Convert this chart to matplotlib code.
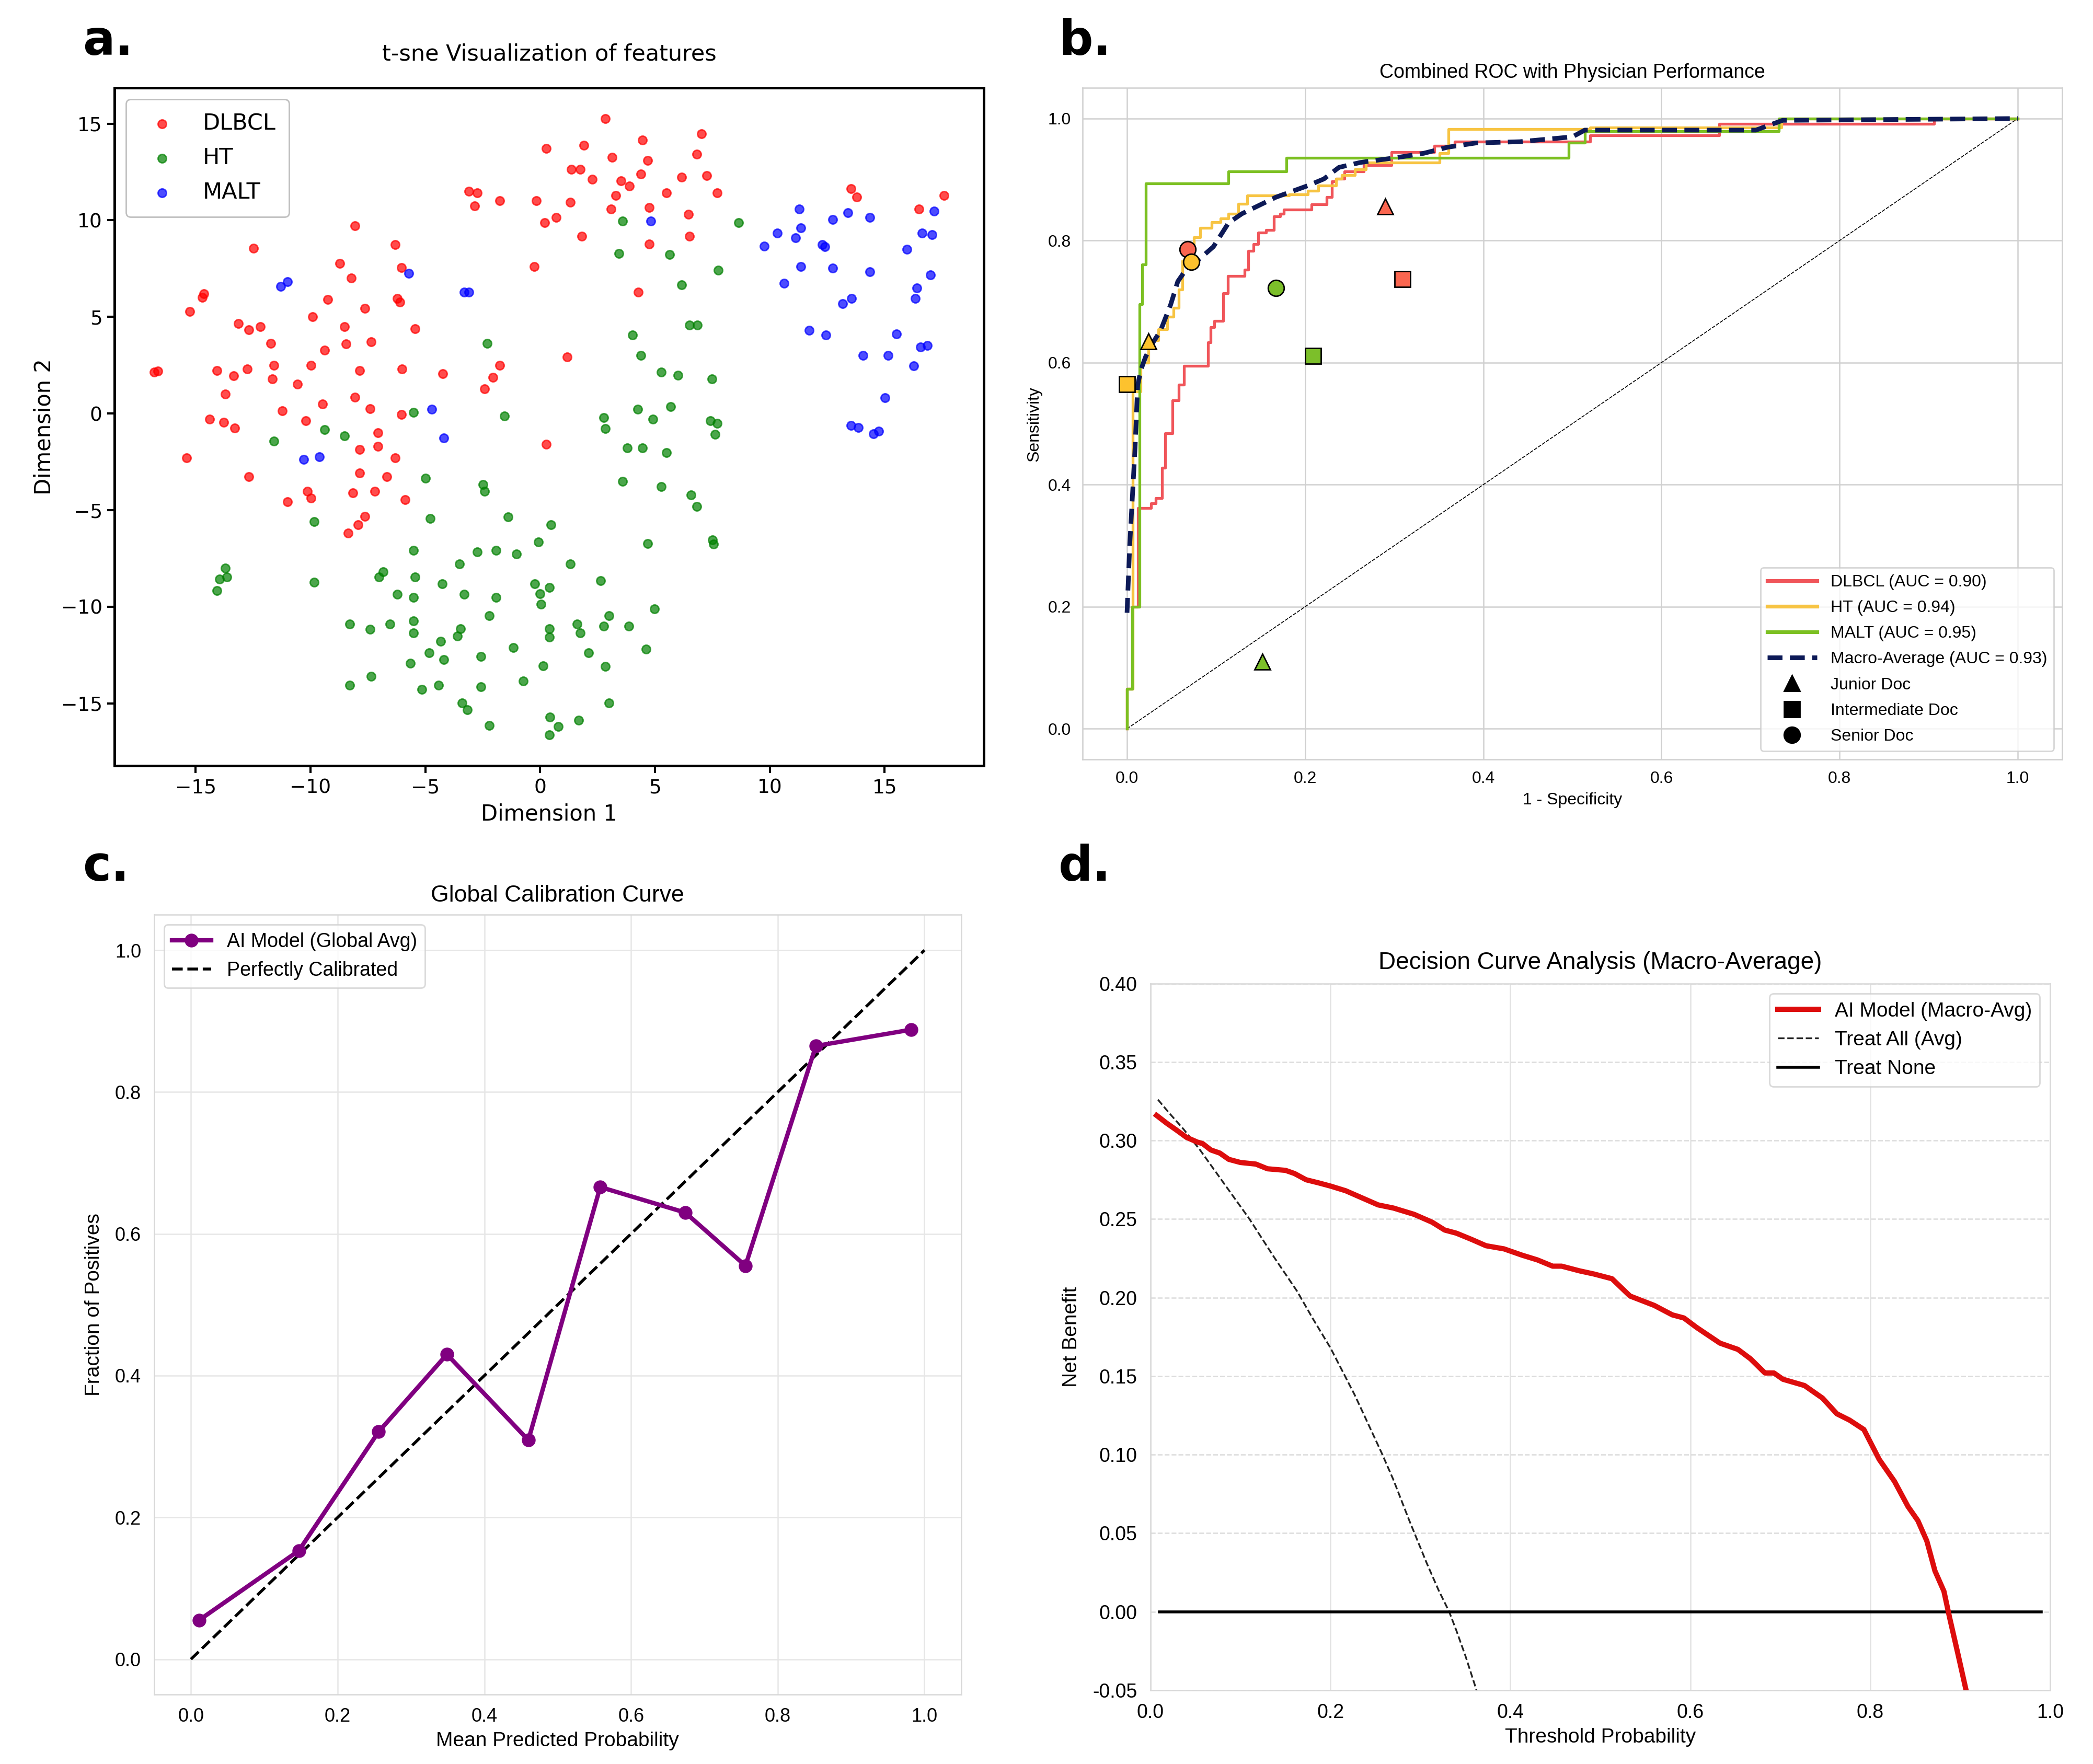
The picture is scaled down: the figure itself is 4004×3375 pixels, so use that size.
import numpy as np
import matplotlib
matplotlib.use("Agg")
import matplotlib.pyplot as plt
from matplotlib.lines import Line2D

plt.rcParams['font.family'] = ['Liberation Sans', 'DejaVu Sans']

# ---------------- Panel a: t-SNE data ----------------
classes = ['DLBCL', 'HT', 'MALT']
class_colors = ['red', 'green', 'blue']

dlbcl_x = [0.27, -3.10, -2.73, -2.86, -1.76, -0.16, 0.20, -8.07, -6.31, -12.47,
           -8.72, -6.03, -0.25, -8.22, -14.63, -14.70, -9.25, -6.23, -6.10, -15.26,
           -7.63, -9.91, -13.13, -12.69, -12.17, -8.51, -5.44, -11.73, -9.39, -8.45,
           -7.35, -1.77, -16.80, -16.65, -14.08, -13.35, -12.76, -11.60, -11.66, -9.97,
           -10.57, -7.85, -6.02, -4.25, -2.06, -2.43, -13.71, -8.07, -9.47, -11.23,
           -7.40, -6.03, -10.21, -14.39, -13.78, -13.29,
           2.84, 7.03, 4.45, 1.90, 3.14, 4.67, 6.82, 1.37, 1.74, 2.27,
           3.51, 3.88, 4.39, 6.16, 7.25, 3.29, 5.49, 7.70, 1.32, 3.08,
           4.76, 6.45, 0.71, 1.81, 6.51, 4.76, 4.28, 1.17, 13.54, 13.78,
           17.59, 16.49,
           -15.40, -12.69, -7.05, -7.05, -7.85, -6.31, -7.85, -6.68, -10.13, -9.98,
           -11.00, -8.15, -7.20, -5.88, -7.63, -7.93, -8.35, 0.27]
dlbcl_y = [13.71, 11.51, 11.43, 10.75, 11.01, 11.01, 9.87, 9.71, 8.75, 8.55,
           7.78, 7.54, 7.61, 7.00, 6.20, 6.01, 5.89, 5.95, 5.78, 5.27,
           5.44, 5.01, 4.66, 4.32, 4.49, 4.49, 4.40, 3.63, 3.27, 3.61,
           3.70, 2.49, 2.13, 2.20, 2.22, 1.96, 2.30, 2.49, 1.78, 2.49,
           1.52, 2.22, 2.30, 2.07, 1.88, 1.27, 1.02, 0.85, 0.49, 0.15,
           0.24, -0.04, -0.36, -0.29, -0.46, -0.75,
           15.25, 14.48, 14.15, 13.89, 13.26, 13.09, 13.43, 12.65, 12.65, 12.13,
           12.04, 11.77, 12.40, 12.24, 12.32, 11.29, 11.43, 11.43, 10.93, 10.57,
           10.67, 10.32, 10.14, 9.17, 9.17, 8.77, 6.29, 2.93, 11.64, 11.20,
           11.28, 10.57,
           -2.29, -3.26, -0.99, -1.70, -1.85, -2.29, -3.07, -3.26, -4.03, -4.38,
           -4.56, -4.11, -4.03, -4.46, -5.32, -5.76, -6.20, -1.60]

ht_x = [-2.30, -5.52, -1.56,
        3.59, 8.64, 3.44, 5.64, 7.76, 6.16, 6.51, 6.84, 4.03, 4.39,
        5.27, 6.01, 7.48, 4.24, 5.68, 2.77, 4.90, 7.41, 7.70, 2.84,
        -9.39, -8.51, -11.60, -4.99, -2.49, -2.43, -4.78, -1.39, 0.48, -9.84,
        -0.07, -5.52, -2.73, -1.91, -1.03, -3.52, -13.71, -13.96, -13.64, -14.08,
        -9.84, -6.84, -7.01, -5.45, -4.27, -0.23, 0.40, -0.01, 0.05, -6.23,
        -5.52, -3.31, -1.91, -2.21, -8.29, -7.41, -6.53, -5.52, -5.52, -3.46,
        -3.61, 0.40, 0.40, -4.34, -1.17, -4.84, -4.19, -2.58, -5.66, 0.14,
        -7.35, -8.29, -5.14, -4.41, -2.58, -0.74, -3.40, -3.16, -2.21, 0.42,
        0.40,
        7.62, 3.80, 4.45, 5.49, 3.59, 5.27, 6.58, 6.82, 4.69, 7.50,
        7.55, 1.32, 2.63, 4.97, 3.00, 1.62, 1.74, 2.77, 3.87, 2.11,
        4.61, 2.84, 3.00, 1.68, 0.79]
ht_y = [3.63, 0.05, -0.12,
        9.96, 9.87, 8.29, 8.22, 7.43, 6.66, 4.57, 4.57, 4.06, 3.02,
        2.14, 1.97, 1.80, 0.23, 0.36, -0.21, -0.29, -0.38, -0.52, -0.78,
        -0.82, -1.17, -1.43, -3.34, -3.66, -4.02, -5.43, -5.35, -5.76, -5.60,
        -6.64, -7.07, -7.17, -7.07, -7.26, -7.78, -8.01, -8.56, -8.46, -9.17,
        -8.73, -8.20, -8.46, -8.46, -8.81, -8.81, -8.99, -9.32, -9.87, -9.34,
        -9.52, -9.34, -9.52, -10.46, -10.90, -11.17, -10.90, -10.72, -11.34, -11.14,
        -11.52, -11.14, -11.58, -11.78, -12.11, -12.37, -12.73, -12.56, -12.91, -13.07,
        -13.61, -14.05, -14.28, -14.05, -14.13, -13.85, -14.97, -15.34, -16.13, -15.70,
        -16.64,
        -1.07, -1.78, -1.78, -2.03, -3.50, -3.78, -4.20, -4.81, -6.72, -6.55,
        -6.75, -7.77, -8.64, -10.11, -10.46, -10.90, -11.34, -10.99, -10.99, -12.37,
        -12.20, -13.08, -14.99, -15.87, -16.20]

malt_x = [-11.30, -11.00, -5.72, -3.31, -3.09, -4.71,
          4.82, 11.28, 13.39, 14.35, 12.74, 17.16, 11.35, 10.32, 11.13, 9.75,
          12.27, 12.39, 16.63, 17.07, 15.96, 11.35, 12.74, 14.35, 16.99, 10.62,
          16.40, 16.34, 13.17, 13.56, 11.72, 12.45, 15.52, 16.55, 16.86, 14.06,
          15.15, 16.26, 15.02, 13.53, 13.85,
          -10.29, -9.62, -4.19, 14.50, 14.74]
malt_y = [6.58, 6.83, 7.26, 6.29, 6.29, 0.21,
          9.96, 10.57, 10.40, 10.14, 10.04, 10.48, 9.60, 9.34, 9.09, 8.66,
          8.73, 8.64, 9.34, 9.25, 8.49, 7.61, 7.53, 7.34, 7.17, 6.73,
          6.49, 5.95, 5.69, 5.95, 4.30, 4.06, 4.13, 3.43, 3.52, 3.02,
          3.02, 2.47, 0.82, -0.61, -0.73,
          -2.38, -2.23, -1.26, -1.05, -0.91]

# ---------------- Panel b: ROC data ----------------
roc_colors = ['#f0555a', '#f7c443', '#7cc022']
# step corners: at each fpr the curve rises to the listed tpr
dl_fpr = [0, 0, 0.006, 0.0125, 0.027, 0.032, 0.039, 0.043, 0.051, 0.058, 0.064, 0.091, 0.094,
          0.098, 0.108, 0.113, 0.132, 0.136, 0.142, 0.147, 0.156, 0.165, 0.172, 0.176,
          0.207, 0.224, 0.230, 0.235, 0.244, 0.266, 0.297, 0.345, 0.368, 0.52, 0.665,
          0.906, 1.0]
dl_tpr = [0, 0.065, 0.2, 0.362, 0.369, 0.378, 0.428, 0.484, 0.538, 0.564, 0.595, 0.633, 0.658,
          0.668, 0.714, 0.742, 0.752, 0.783, 0.794, 0.813, 0.817, 0.84, 0.844, 0.851,
          0.859, 0.871, 0.897, 0.901, 0.913, 0.924, 0.945, 0.955, 0.962, 0.972, 0.991,
          1.0, 1.0]
ht_fpr = [0, 0, 0.0065, 0.0065, 0.015, 0.024, 0.035, 0.045, 0.052, 0.058, 0.062, 0.067,
          0.075, 0.082, 0.095, 0.105, 0.114, 0.125, 0.135, 0.182, 0.203, 0.215, 0.235,
          0.241, 0.256, 0.268, 0.351, 0.361, 0.52, 0.735, 1.0]
ht_tpr = [0, 0.065, 0.44, 0.553, 0.60, 0.637, 0.655, 0.675, 0.69, 0.72, 0.767, 0.794,
          0.805, 0.821, 0.83, 0.836, 0.844, 0.86, 0.874, 0.876, 0.882, 0.89, 0.901,
          0.907, 0.917, 0.928, 0.943, 0.983, 0.985, 1.0, 1.0]
ml_fpr = [0, 0, 0.006, 0.0139, 0.0168, 0.021, 0.114, 0.179, 0.496, 0.514, 0.732, 1.0]
ml_tpr = [0, 0.065, 0.2, 0.696, 0.761, 0.894, 0.913, 0.936, 0.96, 0.979, 1.0, 1.0]
ma_fpr = [0.0, 0.003, 0.006, 0.009, 0.012, 0.016, 0.021, 0.03, 0.0375, 0.049, 0.057,
          0.066, 0.076, 0.097, 0.114, 0.129, 0.167, 0.203, 0.221, 0.238, 0.262, 0.303,
          0.333, 0.36, 0.392, 0.441, 0.5, 0.514, 0.706, 0.736, 1.0]
ma_tpr = [0.19, 0.30, 0.38, 0.46, 0.564, 0.59, 0.61, 0.635, 0.652, 0.695, 0.733,
          0.752, 0.763, 0.79, 0.829, 0.844, 0.871, 0.89, 0.901, 0.92, 0.928, 0.936,
          0.943, 0.953, 0.96, 0.962, 0.97, 0.981, 0.981, 0.997, 1.0]
auc_labels = ['DLBCL (AUC = 0.90)', 'HT (AUC = 0.94)', 'MALT (AUC = 0.95)']
macro_label = 'Macro-Average (AUC = 0.93)'

doc_levels = ['Junior Doc', 'Intermediate Doc', 'Senior Doc']
doc_markers = ['^', 's', 'o']
# physician (1-specificity, sensitivity) per class: junior, intermediate, senior
doc_fpr = {'DLBCL': [0.29, 0.309, 0.068], 'HT': [0.024, 0.0, 0.072], 'MALT': [0.152, 0.209, 0.167]}
doc_tpr = {'DLBCL': [0.856, 0.737, 0.786], 'HT': [0.635, 0.565, 0.765], 'MALT': [0.11, 0.611, 0.722]}
doc_colors = ['#fa6650', '#fdc22e', '#7cbf2a']

# ---------------- Panel c: calibration ----------------
cal_pred = [0.011, 0.147, 0.256, 0.349, 0.46, 0.558, 0.674, 0.756, 0.852, 0.982]
cal_frac = [0.055, 0.153, 0.321, 0.430, 0.309, 0.666, 0.630, 0.555, 0.865, 0.888]

# ---------------- Panel d: decision curve ----------------
dca_thr = [0.0067, 0.018, 0.028, 0.040, 0.052, 0.058, 0.067, 0.077, 0.087, 0.10,
           0.117, 0.13, 0.15, 0.16, 0.173, 0.187, 0.20, 0.217, 0.233, 0.253,
           0.27, 0.293, 0.313, 0.327, 0.34, 0.357, 0.373, 0.393, 0.413, 0.43,
           0.447, 0.457, 0.477, 0.493, 0.513, 0.533, 0.56, 0.58, 0.593, 0.607,
           0.633, 0.653, 0.667, 0.683, 0.693, 0.703, 0.727, 0.747, 0.763, 0.777,
           0.793, 0.81, 0.827, 0.842, 0.853, 0.863, 0.872, 0.882, 0.888, 0.898, 0.907]
dca_model = [0.316, 0.311, 0.307, 0.302, 0.299, 0.298, 0.294, 0.292, 0.288, 0.286,
             0.285, 0.282, 0.281, 0.279, 0.275, 0.273, 0.271, 0.268, 0.264, 0.259,
             0.257, 0.253, 0.248, 0.243, 0.241, 0.237, 0.233, 0.231, 0.227, 0.224,
             0.220, 0.220, 0.217, 0.215, 0.212, 0.201, 0.195, 0.189, 0.187, 0.181,
             0.171, 0.167, 0.161, 0.152, 0.152, 0.148, 0.144, 0.136, 0.126, 0.122,
             0.116, 0.097, 0.083, 0.067, 0.058, 0.045, 0.026, 0.013, -0.003, -0.028, -0.051]
ta_thr = [0.0083, 0.02, 0.037, 0.055, 0.07, 0.09, 0.11, 0.137, 0.163, 0.18, 0.20, 0.227,
          0.24, 0.257, 0.27, 0.287, 0.307, 0.32, 0.332, 0.34, 0.35, 0.363]
ta_nb = [0.326, 0.318, 0.307, 0.294, 0.282, 0.266, 0.250, 0.226, 0.204, 0.187, 0.168, 0.138,
         0.122, 0.101, 0.084, 0.059, 0.031, 0.014, 0.0, -0.012, -0.028, -0.051]
tn_thr = [0.01, 0.99]
tn_nb = [0.0, 0.0]

# =====================================================
fig = plt.figure(figsize=(20.02, 16.875), dpi=200)

# ---------------- Panel a ----------------
axA = fig.add_axes([0.0548, 0.5658, 0.4152, 0.3843])
for xs, ys, col, name in zip([dlbcl_x, ht_x, malt_x], [dlbcl_y, ht_y, malt_y], class_colors, classes):
    axA.scatter(xs, ys, s=34, c=col, alpha=0.7, edgecolors='face', linewidths=1.0, label=name)
axA.set_title('t-sne Visualization of features', fontsize=15.5, pad=19, family='DejaVu Sans')
axA.set_xlabel('Dimension 1', fontsize=15, family='DejaVu Sans')
axA.set_ylabel('Dimension 2', fontsize=15, family='DejaVu Sans')
axA.tick_params(labelsize=13.5, width=1.5, length=5, labelfontfamily='DejaVu Sans')
for sp in axA.spines.values():
    sp.set_linewidth(1.8)
    sp.set_color('black')
legA = axA.legend(loc='upper left', prop={'family': 'DejaVu Sans', 'size': 15.5},
                  frameon=True, borderpad=0.6, labelspacing=0.55)
legA.get_frame().set_edgecolor('#b0b0b0')

# ---------------- Panel b ----------------
axB = fig.add_axes([0.5172, 0.5696, 0.4681, 0.3805])
axB.set_xlim(-0.05, 1.05)
axB.set_ylim(-0.05, 1.05)
axB.grid(True, color='#d0d0d0', linewidth=0.9)
axB.set_axisbelow(True)
for sp in axB.spines.values():
    sp.set_color('#d0d0d0')
    sp.set_linewidth(0.9)
axB.plot([0, 1], [0, 1], color='black', linestyle='--', linewidth=0.6, dashes=(4, 1.5), zorder=2)
for fpr, tpr, col, lab in zip([dl_fpr, ht_fpr, ml_fpr], [dl_tpr, ht_tpr, ml_tpr], roc_colors, auc_labels):
    axB.plot(fpr, tpr, color=col, linewidth=1.9, label=lab, drawstyle='steps-post', zorder=3)
axB.plot(ma_fpr, ma_tpr, color='#0d1a57', linewidth=3.2, linestyle='--', dashes=(3.2, 1.6),
         label=macro_label, zorder=4)
for ci, cname in enumerate(classes):
    for di in range(3):
        axB.plot(doc_fpr[cname][di], doc_tpr[cname][di], marker=doc_markers[di], markersize=11,
                 color=doc_colors[ci], markeredgecolor='black', markeredgewidth=1.0,
                 linestyle='none', zorder=6)
axB.set_title('Combined ROC with Physician Performance', fontsize=13.5, pad=7)
axB.set_xlabel('1 - Specificity', fontsize=11.5, labelpad=4)
axB.set_ylabel('Sensitivity', fontsize=11.5, labelpad=4)
axB.set_xticks([0.0, 0.2, 0.4, 0.6, 0.8, 1.0])
axB.set_yticks([0.0, 0.2, 0.4, 0.6, 0.8, 1.0])
axB.tick_params(length=0, labelsize=11.5, pad=8)
handles, labels = axB.get_legend_handles_labels()
for m, lvl in zip(doc_markers, doc_levels):
    handles.append(Line2D([], [], marker=m, color='black', linestyle='none', markersize=11))
    labels.append(lvl)
legB = axB.legend(handles, labels, loc='lower right', fontsize=11.5, frameon=True,
                  labelspacing=0.6, handlelength=3.0)
legB.get_frame().set_edgecolor('#cccccc')
for h in legB.get_lines()[:3]:
    h.set_linewidth(2.6)

# ---------------- Panel c ----------------
axC = fig.add_axes([0.0737, 0.0393, 0.3855, 0.4421])
axC.plot(cal_pred, cal_frac, marker='o', color='#800080', linewidth=3.0, markersize=8.5,
         label='AI Model (Global Avg)', zorder=3)
axC.plot([0, 1], [0, 1], color='black', linestyle='--', linewidth=2.0, label='Perfectly Calibrated', zorder=2)
axC.grid(True, color='#e6e6e6', linewidth=0.9)
axC.set_axisbelow(True)
for sp in axC.spines.values():
    sp.set_color('#d8d8d8')
    sp.set_linewidth(0.9)
axC.set_xticks([0.0, 0.2, 0.4, 0.6, 0.8, 1.0])
axC.set_yticks([0.0, 0.2, 0.4, 0.6, 0.8, 1.0])
axC.tick_params(length=0, labelsize=13, pad=9)
axC.set_title('Global Calibration Curve', fontsize=16, pad=9)
axC.set_xlabel('Mean Predicted Probability', fontsize=14, labelpad=4)
axC.set_ylabel('Fraction of Positives', fontsize=14, labelpad=8)
legC = axC.legend(loc='upper left', fontsize=13.5, frameon=True)
legC.get_frame().set_edgecolor('#d0d0d0')

# ---------------- Panel d ----------------
axD = fig.add_axes([0.5497, 0.0418, 0.4298, 0.4007])
axD.plot(dca_thr, dca_model, color='#dd0d0d', linewidth=3.6, label='AI Model (Macro-Avg)', zorder=4)
axD.plot(ta_thr, ta_nb, color='#222222', linestyle='--', linewidth=1.2, label='Treat All (Avg)', zorder=3)
axD.plot(tn_thr, tn_nb, color='black', linewidth=2.0, label='Treat None', zorder=3)
axD.set_xlim(0.0, 1.0)
axD.set_ylim(-0.05, 0.40)
axD.set_xticks([0.0, 0.2, 0.4, 0.6, 0.8, 1.0])
axD.set_yticks([-0.05, 0.0, 0.05, 0.10, 0.15, 0.20, 0.25, 0.30, 0.35, 0.40])
axD.yaxis.set_major_formatter(matplotlib.ticker.FormatStrFormatter('%.2f'))
axD.xaxis.set_major_formatter(matplotlib.ticker.FormatStrFormatter('%.1f'))
axD.grid(True, color='#dcdcdc', linewidth=0.9, linestyle='--')
axD.grid(True, axis='x', color='#e2e2e2', linewidth=0.9, linestyle='-')
axD.set_axisbelow(True)
for sp in axD.spines.values():
    sp.set_color('#d8d8d8')
    sp.set_linewidth(0.9)
axD.tick_params(length=0, labelsize=13.5, pad=9)
axD.set_title('Decision Curve Analysis (Macro-Average)', fontsize=16.5, pad=10)
axD.set_xlabel('Threshold Probability', fontsize=14, labelpad=4)
axD.set_ylabel('Net Benefit', fontsize=14, labelpad=8)
legD = axD.legend(loc='upper right', fontsize=14, frameon=True)
legD.get_frame().set_edgecolor('#d0d0d0')

# ---------------- Panel labels ----------------
for lab, x, y in [('a.', 0.0395, 0.969), ('b.', 0.5057, 0.969), ('c.', 0.0395, 0.5008), ('d.', 0.5057, 0.5008)]:
    fig.text(x, y, lab, fontsize=33, fontweight='bold', family='DejaVu Sans', ha='left', va='baseline')

fig.savefig('out.png', dpi=200, facecolor='white')
